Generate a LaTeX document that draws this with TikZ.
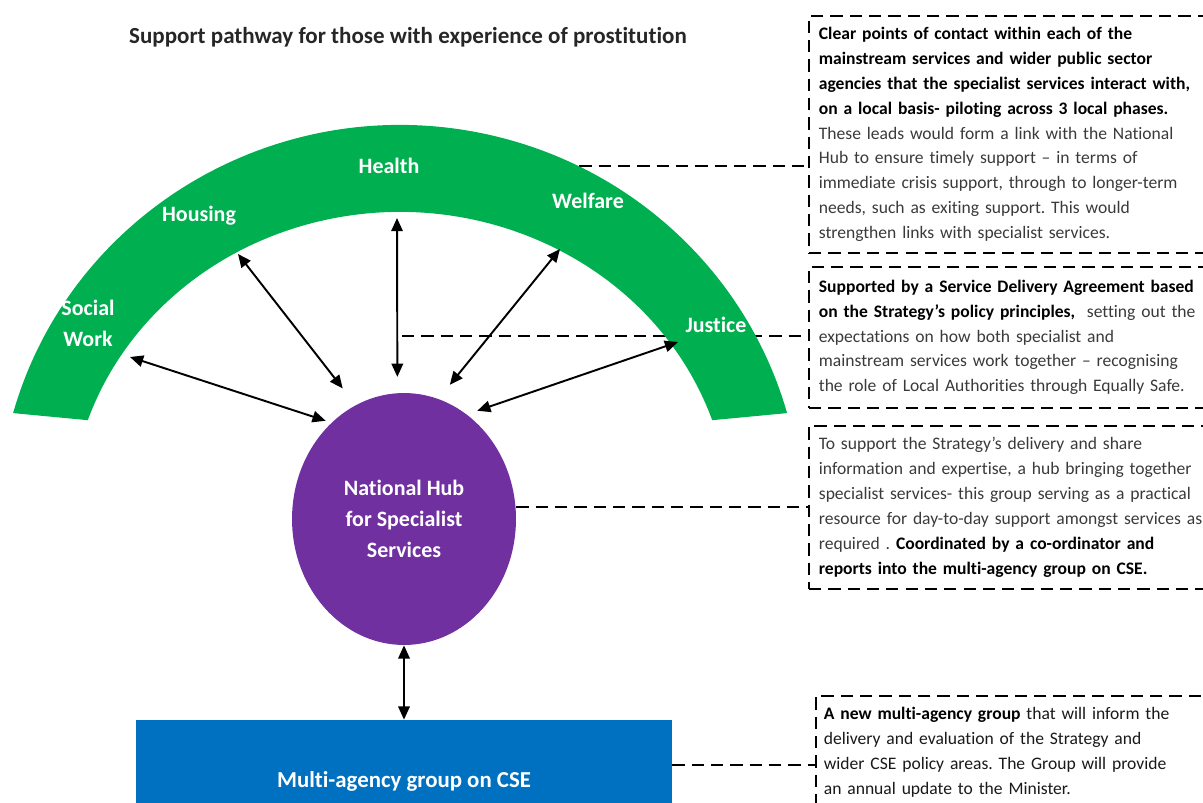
\documentclass[tikz,border=0pt]{standalone}
\usepackage{fontspec}
\setmainfont{Carlito}[Ligatures=NoCommon]
\usetikzlibrary{arrows.meta,shapes.geometric}
\definecolor{arcgreen}{HTML}{00B050}
\definecolor{hubpurple}{HTML}{7030A0}
\definecolor{magblue}{HTML}{0070C0}
\definecolor{boxgrey}{HTML}{3A3A3A}
\newcommand{\keytext}[1]{{\color{black}\bfseries #1}}
\frenchspacing
\begin{document}
\begin{tikzpicture}[x=0.02cm,y=-0.02cm,
  link/.style={{Triangle[length=7.5pt,width=6.5pt]}-{Triangle[length=7.5pt,width=6.5pt]}, line width=1.1pt},
  tie/.style={line width=1pt, dash pattern=on 7pt off 4pt},
  infobox/.style={draw, line width=1pt, dash pattern=on 7pt off 4pt, anchor=north west,
    text width=8.2cm, align=left, inner xsep=0.2cm, inner ysep=0pt,
    font=\fontsize{10}{14.2}\selectfont, text=boxgrey},
  arclabel/.style={text=white, font=\bfseries\fontsize{12.5}{17.6}\selectfont, align=center}]
\useasboundingbox (0,0) rectangle (1203,803);
\clip (0,0) rectangle (1203,803);

\node[font=\bfseries\fontsize{13.1}{15}\selectfont, text=black!85] (title) at (408,37)
  {Support pathway for those with experience of prostitution};

% text boxes on the right
\node[infobox, minimum height=4.74cm] (contacts) at (808,15) {%
  \keytext{Clear points of contact within each of the\\
  mainstream services and wider public sector\\
  agencies that the specialist services interact with,\\
  on a local basis- piloting across 3 local phases.}\\
  These leads would form a link with the National\\
  Hub to ensure timely support -- in terms of\\
  immediate crisis support, through to longer-term\\
  needs, such as exiting support. This would\\
  strengthen links with specialist services.};
\node[infobox, minimum height=2.82cm] (agreement) at (808,266) {%
  \keytext{Supported by a Service Delivery Agreement based\\
  on the Strategy’s policy principles,}\ \ setting out the\\
  expectations on how both specialist and\\
  mainstream services work together -- recognising\\
  the role of Local Authorities through Equally Safe.};
\node[infobox, minimum height=3.26cm] (hubinfo) at (808,425) {%
  To support the Strategy’s delivery and share\\
  information and expertise, a hub bringing together\\
  specialist services- this group serving as a practical\\
  resource for day-to-day support amongst services as\\
  required . \keytext{Coordinated by a co-ordinator and\\
  reports into the multi-agency group on CSE.}};
\node[infobox, minimum height=2.26cm, inner xsep=0.16cm, text=black!90] (groupinfo) at (815,695) {%
  \keytext{A new multi-agency group} that will inform the\\
  delivery and evaluation of the Strategy and\\
  wider CSE policy areas. The Group will provide\\
  an annual update to the Minister.};

\coordinate (healthtie) at (560,166);
\draw[tie] (healthtie) -- (healthtie -| contacts.west);
\coordinate (agreementtie) at (402,336);
\draw[tie] (agreementtie) -- (agreementtie -| agreement.west);

% services arc
\fill[arcgreen] (13.1,413.1) arc[start angle=195.7, end angle=344.3, x radius=402, y radius=395]
  -- (712.2,420.2) arc[start angle=341.1, end angle=198.9, x radius=330, y radius=308] -- cycle;
\node[arclabel] (social) at (88,323) {Social\\Work};
\node[arclabel] (housing) at (199,216) {Housing};
\node[arclabel] (health) at (389,166) {Health};
\node[arclabel] (welfare) at (588,201) {Welfare};
\node[arclabel] (justice) at (716,325) {Justice};

\node[ellipse, fill=hubpurple, minimum width=4.48cm, minimum height=5.04cm, inner sep=0pt,
  text=white, align=center, font=\bfseries\fontsize{12.5}{17.6}\selectfont] (hub) at (404,519)
  {National Hub\\for Specialist\\Services};
\node[fill=magblue, minimum width=10.72cm, minimum height=2.44cm, inner sep=0pt,
  text=white, font=\bfseries\fontsize{13}{15}\selectfont] (mag) at (404,781)
  {Multi-agency group on CSE};

\draw[tie] (hub.east |- hubinfo.west) -- (hubinfo.west);
\coordinate (magtie) at ([yshift=0.32cm]mag.east);
\draw[tie] (magtie) -- (magtie -| groupinfo.west);

% links between hub and services
\coordinate (socialend) at (130,357);
\coordinate (housingend) at (238,254);
\coordinate (healthend) at (397,218);
\coordinate (welfareend) at (560,249);
\coordinate (justiceend) at (678,342);
\draw[link, shorten <=0.12cm] (hub.127) -- (socialend);
\draw[link, shorten <=0.42cm] (hub.113) -- (housingend);
\draw[link, shorten <=0.32cm] (hub.93.2) -- (healthend);
\draw[link, shorten <=0.36cm] (hub.74.3) -- (welfareend);
\draw[link, shorten <=0.22cm] (hub.59.8) -- (justiceend);
\draw[link] (hub.south) -- (mag.north);
\end{tikzpicture}
\end{document}
